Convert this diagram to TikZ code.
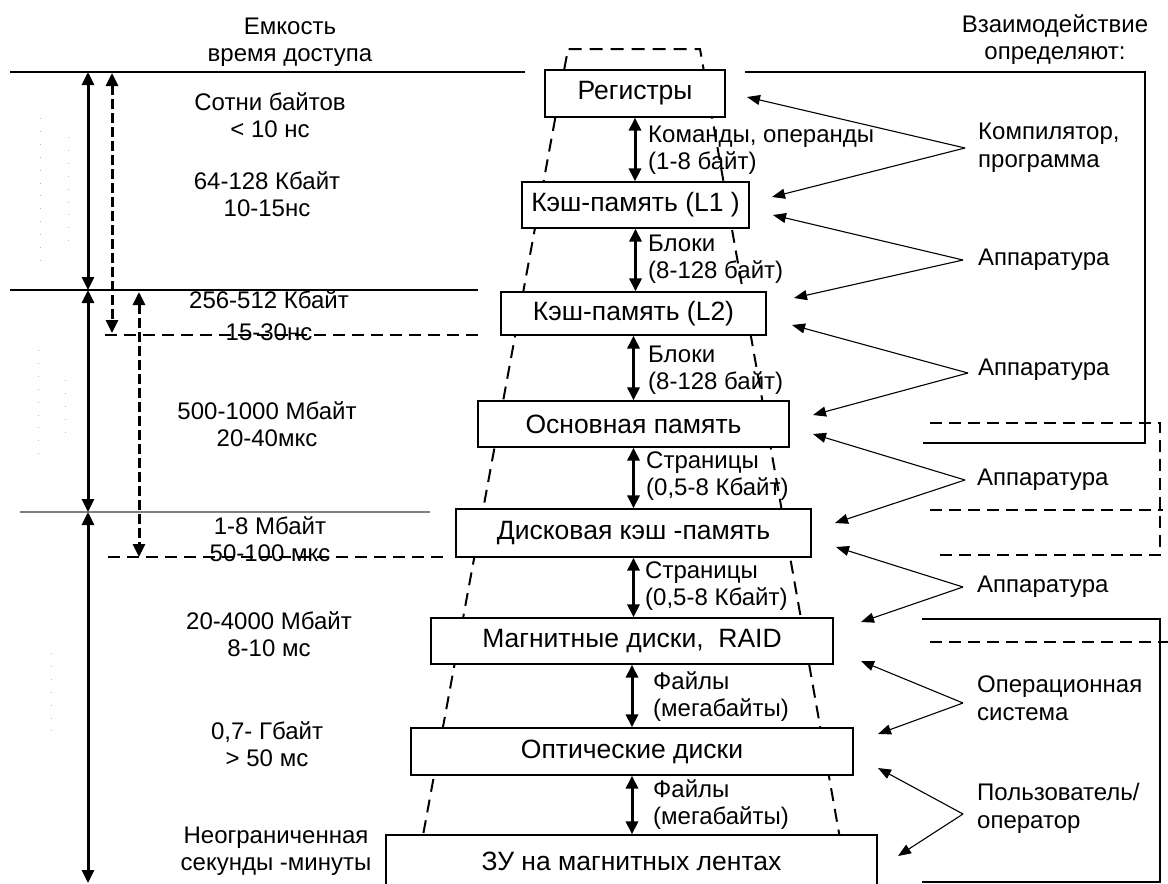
\documentclass[tikz,border=0pt]{standalone}
\usepackage{fontspec}
\setmainfont{Liberation Sans}
\usetikzlibrary{arrows.meta}
\begin{document}
\begin{tikzpicture}[x=1pt,y=-1pt,
  box/.style={draw, fill=white, line width=1.2pt, inner sep=0pt, font=\fontsize{26.5}{30}\selectfont},
  lbl/.style={align=center, inner sep=0pt, font=\fontsize{24}{27}\selectfont},
  tlbl/.style={align=left, anchor=west, inner sep=0pt, font=\fontsize{24}{27}\selectfont},
  rlbl/.style={align=left, anchor=west, inner sep=0pt, font=\fontsize{24}{28}\selectfont},
  dbl/.style={line width=3pt, {Triangle[length=13pt,width=12pt]}-{Triangle[length=13pt,width=12pt]}},
  dashpat/.style={dash pattern=on 10pt off 4pt},
  trap/.style={line width=2pt, dash pattern=on 13pt off 8pt},
  thickdash/.style={line width=2.8pt, dash pattern=on 12pt off 7pt},
  thin/.style={line width=1.2pt},
  conn/.style={line width=1.1pt, -{Triangle[length=13pt,width=10pt]}},
  faint/.style={gray!55, line width=0.9pt, dash pattern=on 0.9pt off 12pt}
]
\useasboundingbox (0,0) rectangle (1168,884);
\fill[white] (0,0) rectangle (1168,884);

% faint dots (scan artifacts)
\draw[faint] (40,118) -- (40,262);
\draw[faint] (68,137) -- (68,243);
\draw[faint] (38,350) -- (38,462);
\draw[faint] (65,380) -- (65,433);
\draw[faint] (51,653) -- (51,738);

% pyramid outline
\draw[trap] (412,895) -- (568,49) -- (700,49) -- (850,895);

% left horizontal lines
\draw[thin] (10,72) -- (525,72);
\draw[thin] (10,290) -- (478,290);
\draw[thin, gray] (20,512) -- (430,512);
\draw[thickdash] (105,335) -- (480,335);
\draw[thickdash] (108,557) -- (443,557);

% left arrows
\coordinate (la0) at (88,72);
\coordinate (la1) at (88,290);
\coordinate (la2) at (88,512);
\coordinate (la3) at (88,883);
\draw[dbl] (la0) -- (la1);
\draw[dbl] (la1) -- (la2);
\draw[dbl] (la2) -- (la3);
\coordinate (da0) at (112,73);
\coordinate (da1) at (112,333);
\coordinate (db0) at (139,292);
\coordinate (db1) at (139,557);
\draw[dbl, dashpat] (da0) -- (da1);
\draw[dbl, dashpat] (db0) -- (db1);

% right brackets
\draw[thin] (745,72) -- (1145,72) -- (1145,443) -- (923,443);
\draw[thin] (922,619) -- (1160,619) -- (1160,882) -- (922,882);
\draw[thickdash] (930,423) -- (1160,423) -- (1160,555) -- (937,555);
\draw[thickdash] (930,510) -- (1163,510);
\draw[thickdash] (930,642) -- (1168,642);

% boxes
\node[box, minimum width=180pt, minimum height=47pt] (reg) at (635,93.5) {Регистры};
\node[box, minimum width=227pt, minimum height=46pt] (l1) at (635.5,205) {Кэш-память (L1 )};
\node[box, minimum width=265pt, minimum height=43pt] (l2) at (633.5,313.5) {Кэш-память (L2)};
\node[box, minimum width=311pt, minimum height=46pt] (mem) at (633.5,424) {Основная память};
\node[box, minimum width=355pt, minimum height=48pt] (dc) at (633.5,533) {Дисковая кэш -память};
\node[box, minimum width=402pt, minimum height=46pt] (mag) at (632,641) {Магнитные диски,\ \ RAID};
\node[box, minimum width=442pt, minimum height=47pt] (opt) at (632,751.5) {Оптические диски};
\node[box, minimum width=491pt, minimum height=52pt] (tape) at (631.5,861) {ЗУ на магнитных лентах};

% vertical transfer arrows
\draw[dbl] (reg.south) -- (reg.south |- l1.north);
\draw[dbl] (l1.south) -- (l1.south |- l2.north);
\draw[dbl] (l2.south) -- (l2.south |- mem.north);
\draw[dbl] (mem.south) -- (mem.south |- dc.north);
\draw[dbl] (dc.south) -- (dc.south |- mag.north);
\draw[dbl] (mag.south) -- (mag.south |- opt.north);
\draw[dbl] (opt.south) -- (opt.south |- tape.north);

% transfer labels
\node[tlbl] (t1) at (648,150) {Команды, операнды\\(1-8 байт)};
\node[tlbl] (t2) at (648,259) {Блоки\\(8-128 байт)};
\node[tlbl] (t3) at (648,370) {Блоки\\(8-128 байт)};
\node[tlbl] (t4) at (646,476) {Страницы\\(0,5-8 Кбайт)};
\node[tlbl] (t5) at (645,586) {Страницы\\(0,5-8 Кбайт)};
\node[tlbl] (t6) at (653,697) {Файлы\\(мегабайты)};
\node[tlbl] (t7) at (653,805) {Файлы\\(мегабайты)};

% left labels
\node[lbl] (hl) at (290,42) {Емкость\\время доступа};
\node[lbl] (c1) at (270,115) {Сотни байтов\\< 10 нс};
\node[lbl] (c2) at (267,194) {64-128 Кбайт\\10-15нс};
\node[lbl] (c3) at (269,316) {256-512 Кбайт\\[5pt]15-30нс};
\node[lbl] (c4) at (267,424) {500-1000 Мбайт\\20-40мкс};
\node[lbl] (c5) at (270,539) {1-8 Мбайт\\50-100 мкс};
\node[lbl] (c6) at (269,634) {20-4000 Мбайт\\8-10 мс};
\node[lbl] (c7) at (267,744) {0,7- Гбайт\\> 50 мс};
\node[lbl] (c8) at (276,851) {Неограниченная\\секунды -минуты};

% right labels
\node[lbl] (hr) at (1055,40) {Взаимодействие\\определяют:};
\node[rlbl] (r1) at (978,148) {Компилятор,\\программа};
\node[rlbl] (r2) at (978,260) {Аппаратура};
\node[rlbl] (r3) at (978,370) {Аппаратура};
\node[rlbl] (r4) at (977,480) {Аппаратура};
\node[rlbl] (r5) at (977,587) {Аппаратура};
\node[rlbl] (r6) at (977,698) {Операционная\\система};
\node[rlbl] (r7) at (977,808) {Пользователь/\\оператор};

% arrow targets
\coordinate (p1a) at (747,97);  \coordinate (p1b) at (772,197);
\coordinate (p2a) at (773,215); \coordinate (p2b) at (794,298);
\coordinate (p3a) at (792,325); \coordinate (p3b) at (813,415);
\coordinate (p4a) at (813,434); \coordinate (p4b) at (835,523);
\coordinate (p5a) at (836,547); \coordinate (p5b) at (861,622);
\coordinate (p6a) at (861,661); \coordinate (p6b) at (878,734);
\coordinate (p7a) at (878,768); \coordinate (p7b) at (898,856);

\draw[conn] ([xshift=-13pt]r1.west) -- (p1a);
\draw[conn] ([xshift=-13pt]r1.west) -- (p1b);
\draw[conn] ([xshift=-15pt]r2.west) -- (p2a);
\draw[conn] ([xshift=-15pt]r2.west) -- (p2b);
\draw[conn] ([xshift=-10pt,yshift=-3pt]r3.west) -- (p3a);
\draw[conn] ([xshift=-10pt,yshift=-3pt]r3.west) -- (p3b);
\draw[conn] ([xshift=-12pt]r4.west) -- (p4a);
\draw[conn] ([xshift=-12pt]r4.west) -- (p4b);
\draw[conn] ([xshift=-14pt]r5.west) -- (p5a);
\draw[conn] ([xshift=-14pt]r5.west) -- (p5b);
\draw[conn] ([xshift=-14pt,yshift=-5pt]r6.west) -- (p6a);
\draw[conn] ([xshift=-14pt,yshift=-5pt]r6.west) -- (p6b);
\draw[conn] ([xshift=-14pt,yshift=-6pt]r7.west) -- (p7a);
\draw[conn] ([xshift=-14pt,yshift=-6pt]r7.west) -- (p7b);
\end{tikzpicture}
\end{document}
